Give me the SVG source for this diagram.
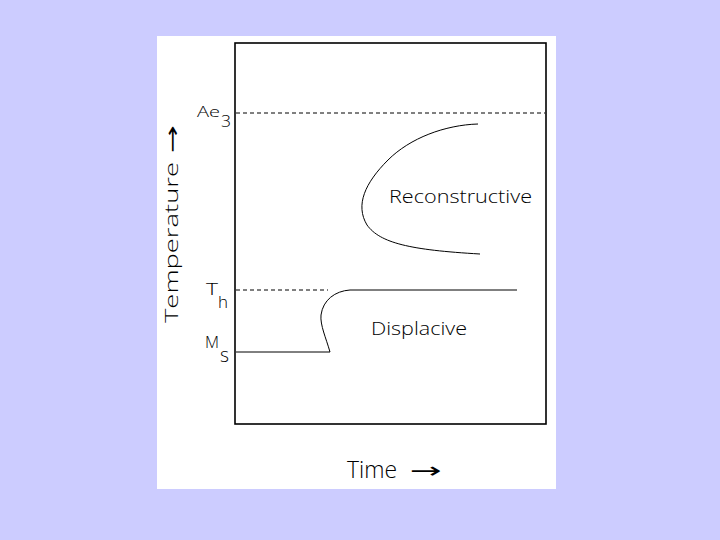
<svg xmlns="http://www.w3.org/2000/svg" width="720" height="540" viewBox="0 0 720 540">
  <style>
    .lbl { font-family: "Open Sans", "Liberation Sans", Arial, sans-serif; font-weight: 300; fill: #000; }
    .arr { font-family: "DejaVu Sans", sans-serif; fill: #000; }
    .ln { fill: none; stroke: #000; stroke-width: 1; }
    .dash { fill: none; stroke: #000; stroke-width: 1; stroke-dasharray: 4 3; }
  </style>
  <rect x="0" y="0" width="720" height="540" fill="#CCCCFF"/>
  <rect x="157" y="36" width="399" height="453" fill="#FFFFFF"/>
  <g id="plot-frame">
    <rect x="235" y="43" width="311" height="381" fill="none" stroke="#000" stroke-width="1.6"/>
  </g>
  <g id="connectors">
    <line class="dash" x1="236" y1="113" x2="545" y2="113"/>
    <line class="dash" x1="236" y1="290" x2="328" y2="290"/>
    <path class="ln" d="M478,124 C445,125 410,138 388,160 C365,183 355,205 367,225 C380,243 410,250 480,254"/>
    <path class="ln" d="M236,352 L330,352 C326,338 320,325 321,315 C323,300 335,291 350,290 L517,290"/>
  </g>
  <g id="reconstructive">
    <text class="lbl" x="389" y="203" font-size="18" textLength="143" lengthAdjust="spacingAndGlyphs">Reconstructive</text>
  </g>
  <g id="displacive">
    <text class="lbl" x="371" y="335" font-size="18" textLength="96" lengthAdjust="spacingAndGlyphs">Displacive</text>
  </g>
  <g id="label-ae3">
    <text class="lbl" x="197" y="117" font-size="14" textLength="23" lengthAdjust="spacingAndGlyphs">Ae</text>
    <text class="lbl" x="221" y="127" font-size="16" textLength="10" lengthAdjust="spacingAndGlyphs">3</text>
  </g>
  <g id="label-th">
    <text class="lbl" x="206" y="295" font-size="16" textLength="12" lengthAdjust="spacingAndGlyphs">T</text>
    <text class="lbl" x="218" y="308" font-size="16" textLength="10" lengthAdjust="spacingAndGlyphs">h</text>
  </g>
  <g id="label-ms">
    <text class="lbl" x="205" y="348" font-size="17" textLength="14" lengthAdjust="spacingAndGlyphs">M</text>
    <text class="lbl" x="220" y="362" font-size="20" textLength="9" lengthAdjust="spacingAndGlyphs">s</text>
  </g>
  <g id="axis-temperature" transform="translate(178,323) rotate(-90)">
    <text class="lbl" x="0" y="0" font-size="19" textLength="161" lengthAdjust="spacingAndGlyphs">Temperature</text>
    <text class="arr" x="170" y="1" font-size="20" textLength="28" lengthAdjust="spacingAndGlyphs">→</text>
  </g>
  <g id="axis-time">
    <text class="lbl" x="347" y="478" font-size="23" textLength="50" lengthAdjust="spacingAndGlyphs">Time</text>
    <text class="arr" x="410" y="478" font-size="22" textLength="32" lengthAdjust="spacingAndGlyphs">→</text>
  </g>
</svg>
